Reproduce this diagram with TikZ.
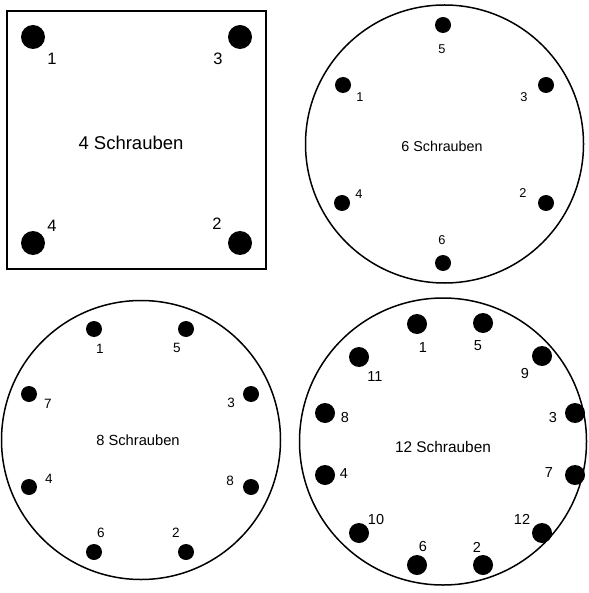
\documentclass[tikz,border=0pt]{standalone}
\usepackage{fontspec}
\setmainfont{Liberation Sans}
\begin{document}
\begin{tikzpicture}[x=1pt,y=-1pt,
  bigbolt/.style={circle,fill=black,inner sep=0pt,minimum size=24pt},
  midbolt/.style={circle,fill=black,inner sep=0pt,minimum size=20pt},
  smallbolt/.style={circle,fill=black,inner sep=0pt,minimum size=16pt},
  numA/.style={inner sep=0pt,font=\fontsize{16.5}{16.5}\selectfont},
  numB/.style={inner sep=0pt,font=\fontsize{12.8}{12.8}\selectfont},
  numD/.style={inner sep=0pt,font=\fontsize{13.5}{13.5}\selectfont},
  numC/.style={inner sep=0pt,font=\fontsize{14.5}{14.5}\selectfont},
  titleA/.style={inner sep=0pt,font=\fontsize{18.5}{18.5}\selectfont},
  titleB/.style={inner sep=0pt,font=\fontsize{14.3}{14.3}\selectfont},
  titleD/.style={inner sep=0pt,font=\fontsize{14.7}{14.7}\selectfont},
  titleC/.style={inner sep=0pt,font=\fontsize{15.4}{15.4}\selectfont},
  plate/.style={draw=black,line width=1.8pt},
  ring/.style={draw=black,line width=1.5pt}]
\useasboundingbox (0,0) rectangle (588,593);
% 4 bolts
\node[plate,minimum width=259pt,minimum height=258pt,inner sep=0pt] (sq) at (136.5,140) {};
\node[titleA] (t4) at (131,143) {4 Schrauben};
\node[bigbolt] (a1) at (33,37) {};
\node[bigbolt] (a3) at (240,37) {};
\node[bigbolt] (a4) at (33,243) {};
\node[bigbolt] (a2) at (240,243) {};
\node[numA] (la1) at (52,59) {1};
\node[numA] (la3) at (218,59) {3};
\node[numA] (la4) at (52,226) {4};
\node[numA] (la2) at (217,224) {2};
% 6 bolts
\node[ring,circle,minimum size=278pt,inner sep=0pt] (c6) at (444.5,144) {};
\node[titleB] (t6) at (442,146) {6 Schrauben};
\node[smallbolt] (b5) at (443,25) {};
\node[smallbolt] (b1) at (343,85) {};
\node[smallbolt] (b3) at (546,85) {};
\node[smallbolt] (b4) at (342,203) {};
\node[smallbolt] (b2) at (546,203) {};
\node[smallbolt] (b6) at (443,263) {};
\node[numB] (lb5) at (442,49) {5};
\node[numB] (lb1) at (360,97) {1};
\node[numB] (lb3) at (524,97) {3};
\node[numB] (lb4) at (359,194) {4};
\node[numB] (lb2) at (523,193) {2};
\node[numB] (lb6) at (442,240) {6};
% 8 bolts
\node[ring,circle,minimum size=279pt,inner sep=0pt] (c8) at (141,440) {};
\node[titleD] (t8) at (138,440) {8 Schrauben};
\node[smallbolt] (d1) at (94,329) {};
\node[smallbolt] (d5) at (186,329) {};
\node[smallbolt] (d7) at (29,394) {};
\node[smallbolt] (d3) at (251,394) {};
\node[smallbolt] (d4) at (29,487) {};
\node[smallbolt] (d8) at (251,487) {};
\node[smallbolt] (d6) at (94,552) {};
\node[smallbolt] (d2) at (186,552) {};
\node[numD] (ld1) at (100,349) {1};
\node[numD] (ld5) at (177,348) {5};
\node[numD] (ld7) at (48,404) {7};
\node[numD] (ld3) at (231,403) {3};
\node[numD] (ld4) at (49,479) {4};
\node[numD] (ld8) at (230,481) {8};
\node[numD] (ld6) at (101,533) {6};
\node[numD] (ld2) at (176,533) {2};
% 12 bolts
\node[ring,circle,minimum size=287pt,inner sep=0pt] (c12) at (443,441.5) {};
\node[titleC] (t12) at (443,447) {12 Schrauben};
\node[midbolt] (e1) at (417,324) {};
\node[midbolt] (e5) at (483,323) {};
\node[midbolt] (e11) at (359,357) {};
\node[midbolt] (e9) at (542,356) {};
\node[midbolt] (e8) at (325,413) {};
\node[midbolt] (e3) at (575,413) {};
\node[midbolt] (e4) at (325,475) {};
\node[midbolt] (e7) at (575,475) {};
\node[midbolt] (e10) at (359,533) {};
\node[midbolt] (e12) at (542,533) {};
\node[midbolt] (e6) at (417,565) {};
\node[midbolt] (e2) at (483,565) {};
\node[numC] (le1) at (423,348) {1};
\node[numC] (le5) at (478,346) {5};
\node[numC] (le11) at (375,377) {11};
\node[numC] (le9) at (525,374) {9};
\node[numC] (le8) at (345,418) {8};
\node[numC] (le3) at (553,418) {3};
\node[numC] (le4) at (344,474) {4};
\node[numC] (le7) at (549,473) {7};
\node[numC] (le10) at (376,520) {10};
\node[numC] (le12) at (522,519) {12};
\node[numC] (le6) at (423,547) {6};
\node[numC] (le2) at (477,547) {2};
\end{tikzpicture}
\end{document}
